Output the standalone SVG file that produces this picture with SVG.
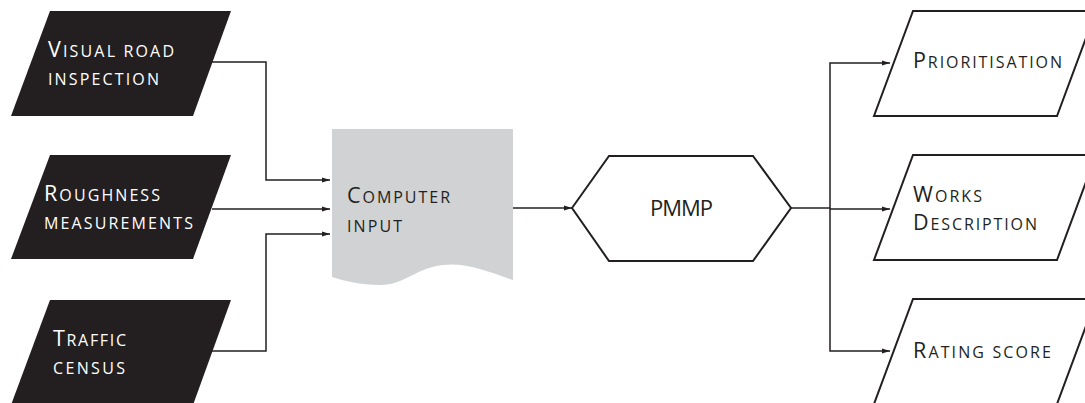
<svg xmlns="http://www.w3.org/2000/svg" width="1085" height="403" viewBox="0 0 1085 403">
<defs>
<marker id="arr" viewBox="0 0 8 6" refX="8" refY="3" markerWidth="8" markerHeight="6" markerUnits="userSpaceOnUse" orient="auto">
<path d="M0,0.5 L8,3 L0,5.5 Z" fill="#231f20"/>
</marker>
<style>
.dark{fill:#231f20;stroke:none}
.out{fill:#fff;stroke:#231f20;stroke-width:2;stroke-linejoin:miter}
.doc{fill:#d1d2d4;stroke:none}
.conn{fill:none;stroke:#231f20;stroke-width:1.5;marker-end:url(#arr)}
.line{fill:none;stroke:#231f20;stroke-width:1.5}
text{font-family:"Open Sans","Liberation Sans",sans-serif;font-size:16px}
.cap{font-size:21.5px}
.w{fill:#fff}
.k{fill:#231f20}
</style>
</defs>
<rect width="1085" height="403" fill="#fff"/>
<g id="n-visual">
<polygon class="dark" points="50,11 231,11 193,116 11,116"/>
<text class="w" x="48" y="57" textLength="126" lengthAdjust="spacing"><tspan class="cap">V</tspan>ISUAL ROAD</text>
<text class="w" x="48" y="85" textLength="111" lengthAdjust="spacing">INSPECTION</text>
</g>
<g id="n-rough">
<polygon class="dark" points="50,155 231,155 193,259 11,259"/>
<text class="w" x="44" y="201" textLength="116" lengthAdjust="spacing"><tspan class="cap">R</tspan>OUGHNESS</text>
<text class="w" x="44" y="229" textLength="149" lengthAdjust="spacing">MEASUREMENTS</text>
</g>
<g id="n-traffic">
<polygon class="dark" points="50,300 231,300 193,405 11,405"/>
<text class="w" x="53" y="346" textLength="73" lengthAdjust="spacing"><tspan class="cap">T</tspan>RAFFIC</text>
<text class="w" x="53" y="374" textLength="72" lengthAdjust="spacing">CENSUS</text>
</g>
<g id="n-input">
<path class="doc" d="M332,129 L513,129 L513,280 C490,272 465,262 443,265 C415,268 405,285 380,285 C360,285 345,281 332,277 Z"/>
<text class="k" x="347" y="203" textLength="103" lengthAdjust="spacing"><tspan class="cap">C</tspan>OMPUTER</text>
<text class="k" x="347" y="232" textLength="55" lengthAdjust="spacing">INPUT</text>
</g>
<g id="n-pmmp">
<polygon class="out" points="572,208 609,156 753,156 791,208 753,261 609,261"/>
<text class="k" x="650" y="216" textLength="63" lengthAdjust="spacing" style="font-size:22px">PMMP</text>
</g>
<g id="n-prio">
<polygon class="out" points="913,11 1096,11 1057,116 874,116"/>
<text class="k" x="913" y="68" textLength="149" lengthAdjust="spacing"><tspan class="cap">P</tspan>RIORITISATION</text>
</g>
<g id="n-works">
<polygon class="out" points="913,155 1096,155 1057,260 874,260"/>
<text class="k" x="913" y="202" textLength="69" lengthAdjust="spacing"><tspan class="cap">W</tspan>ORKS</text>
<text class="k" x="913" y="230" textLength="124" lengthAdjust="spacing"><tspan class="cap">D</tspan>ESCRIPTION</text>
</g>
<g id="n-rating">
<polygon class="out" points="913,299 1096,299 1057,404 874,404"/>
<text class="k" x="913" y="358" textLength="138" lengthAdjust="spacing"><tspan class="cap">R</tspan>ATING SCORE</text>
</g>
<g id="connectors">
<path class="conn" d="M212,62 H266 V180 H330"/>
<path class="conn" d="M212,209 H330"/>
<path class="conn" d="M212,351 H266 V234 H330"/>
<path class="conn" d="M513,208 H572"/>
<path class="line" d="M791,208 H830"/>
<path class="conn" d="M830,208 V63 H890"/>
<path class="conn" d="M830,209 H890"/>
<path class="conn" d="M830,208 V351 H890"/>
</g>
</svg>
